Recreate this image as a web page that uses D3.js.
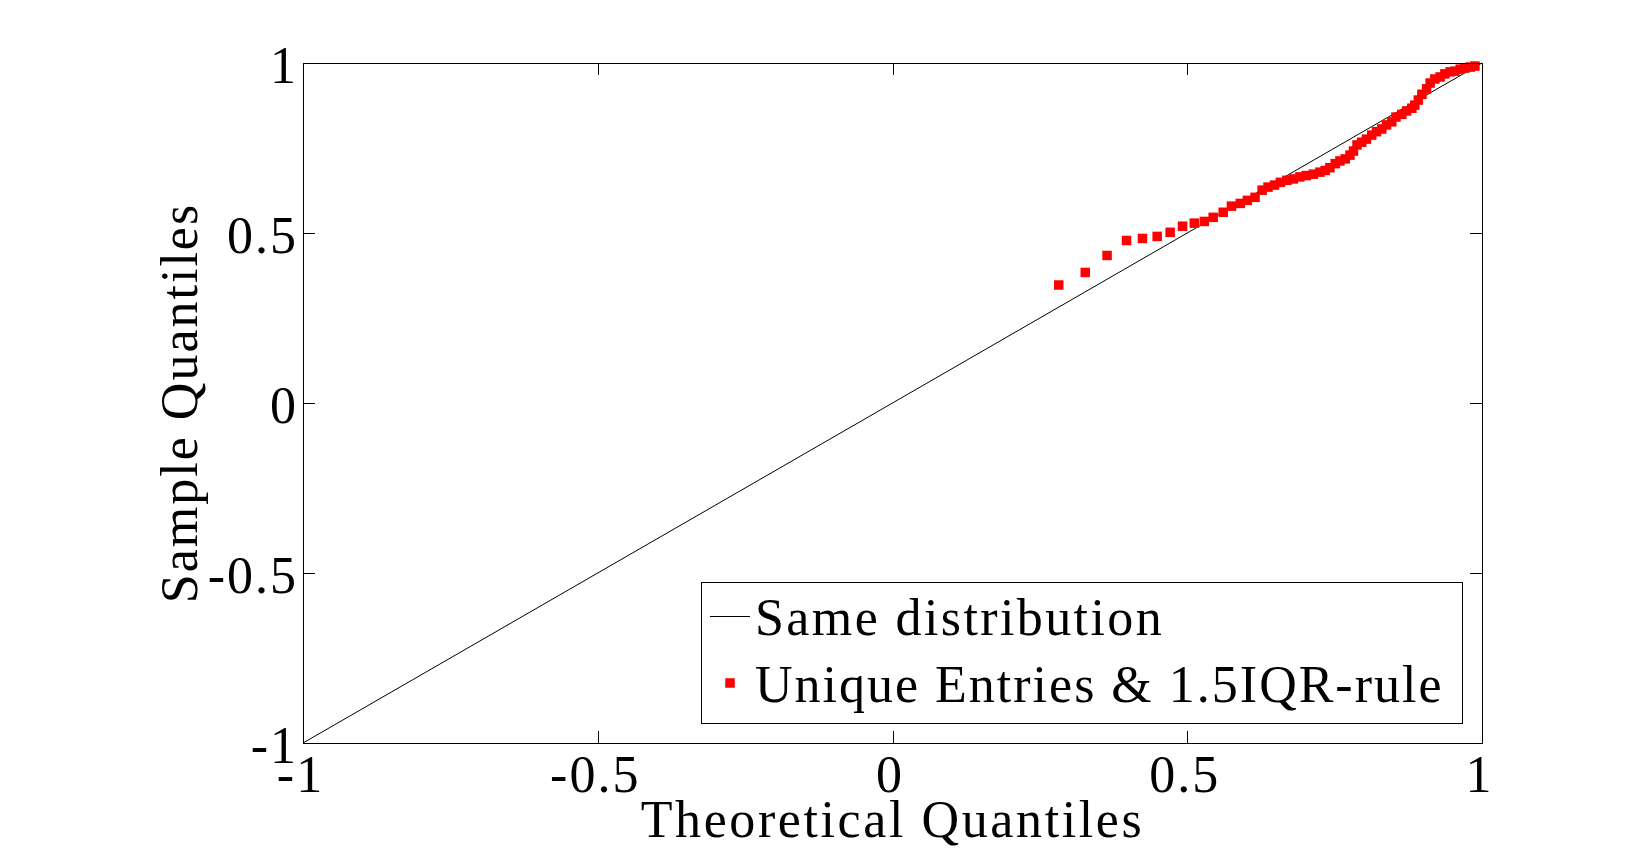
<!DOCTYPE html>
<html><head><meta charset="utf-8">
<script src="https://cdn.jsdelivr.net/npm/d3@7"></script>
<style>
html,body{margin:0;padding:0;background:#fff;}
svg{display:block;}
text{font-family:"Liberation Serif","Times New Roman",serif;fill:#000;}
</style></head>
<body>
<svg id="chart" width="1638" height="851"></svg>
<script>
// ---- data ----
const xTicks = [-1, -0.5, 0, 0.5, 1];
const xTickLabels = ["-1", "-0.5", "0", "0.5", "1"];
const yTicks = [-1, -0.5, 0, 0.5, 1];
const yTickLabels = ["-1", "-0.5", "0", "0.5", "1"];
const refLineX = [-1, 1];
const refLineY = [-1, 1];
const theoX = [0.282,0.327,0.364,0.397,0.424,0.449,0.471,0.492,0.512,0.529,
  0.544,0.561,0.575,0.590,0.602,0.615,0.627,0.637,0.648,0.658,
  0.669,0.680,0.691,0.702,0.714,0.725,0.734,0.742,0.751,0.759,
  0.768,0.776,0.782,0.788,0.796,0.804,0.813,0.821,0.830,0.838,
  0.847,0.854,0.864,0.872,0.881,0.886,0.892,0.898,0.906,
  0.912,0.920,0.929,0.937,0.946,0.954,0.963,0.971,0.980,0.988];
const sampleY = [0.347,0.384,0.434,0.478,0.484,0.490,0.502,0.520,0.529,0.534,
  0.546,0.561,0.579,0.587,0.596,0.605,0.626,0.635,0.641,0.649,
  0.655,0.659,0.665,0.669,0.673,0.679,0.684,0.692,0.704,0.712,
  0.718,0.729,0.741,0.759,0.767,0.776,0.788,0.798,0.806,0.818,
  0.827,0.841,0.849,0.859,0.867,0.876,0.891,0.908,0.924,
  0.941,0.953,0.959,0.968,0.974,0.976,0.982,0.985,0.988,0.991];
const seriesNames = ["Same distribution", "Unique Entries & 1.5IQR-rule"];
const xLabel = "Theoretical Quantiles";
const yLabel = "Sample Quantiles";

// ---- layout ----
const L = 303, R = 1482, T = 63, B = 743;
const FS = 52, LS = "2px";
const svg = d3.select("#chart");
const x = d3.scaleLinear().domain([-1, 1]).range([L, R]);
const y = d3.scaleLinear().domain([-1, 1]).range([B, T]);

// reference line
svg.append("path")
  .datum(refLineX.map((v, i) => [v, refLineY[i]]))
  .attr("d", d3.line().x(d => x(d[0])).y(d => y(d[1])))
  .attr("fill", "none").attr("stroke", "#000").attr("stroke-width", 1);

// points
const pts = theoX.map((v, i) => ({x: v, y: sampleY[i]}));
const S = 9.5;
svg.append("g").selectAll("rect").data(pts).join("rect")
  .attr("x", d => x(d.x) - S / 2).attr("y", d => y(d.y) - S / 2)
  .attr("width", S).attr("height", S).attr("fill", "#ff0000");

// axes
const tickLen = 12;
const gB = svg.append("g").attr("transform", `translate(0,${B})`)
  .call(d3.axisBottom(x).tickValues(xTicks).tickSize(-tickLen).tickFormat((d, i) => xTickLabels[i]));
gB.selectAll("text").attr("y", 49).attr("dy", 0).attr("dx", -3)
  .style("font-size", FS + "px").style("letter-spacing", LS).attr("font-family", null);
const gT = svg.append("g").attr("transform", `translate(0,${T})`)
  .call(d3.axisTop(x).tickValues(xTicks).tickSize(-tickLen).tickFormat(""));
const gL = svg.append("g").attr("transform", `translate(${L},0)`)
  .call(d3.axisLeft(y).tickValues(yTicks).tickSize(-tickLen).tickFormat((d, i) => yTickLabels[i]));
gL.selectAll("text").attr("x", -5).attr("dy", 0).attr("y", 19)
  .style("font-size", FS + "px").style("letter-spacing", LS).attr("font-family", null);
const gR = svg.append("g").attr("transform", `translate(${R},0)`)
  .call(d3.axisRight(y).tickValues(yTicks).tickSize(-tickLen).tickFormat(""));
[gB, gT, gL, gR].forEach(g => {
  g.select(".domain").remove();
  g.selectAll("line").attr("stroke", "#000").attr("shape-rendering", "crispEdges");
});
svg.append("rect").attr("x", L).attr("y", T).attr("width", R - L).attr("height", B - T)
  .attr("fill", "none").attr("stroke", "#000").attr("stroke-width", 1).attr("shape-rendering", "crispEdges");

// axis labels
svg.append("text").attr("x", (L + R) / 2).attr("y", 837).attr("text-anchor", "middle")
  .style("font-size", FS + "px").style("letter-spacing", "2.6px").text(xLabel);
svg.append("text").attr("transform", `translate(197,${(T + B) / 2}) rotate(-90)`).attr("text-anchor", "middle")
  .style("font-size", FS + "px").style("letter-spacing", LS).text(yLabel);

// legend
const lg = svg.append("g");
lg.append("rect").attr("x", 701).attr("y", 582).attr("width", 761).attr("height", 141)
  .attr("fill", "#fff").attr("stroke", "#000").attr("stroke-width", 1).attr("shape-rendering", "crispEdges");
const rows = [616, 683];
lg.append("line").attr("x1", 710).attr("x2", 750).attr("y1", rows[0]).attr("y2", rows[0])
  .attr("stroke", "#000").attr("stroke-width", 1).attr("shape-rendering", "crispEdges");
lg.append("rect").attr("x", 730 - S / 2).attr("y", rows[1] - S / 2).attr("width", S).attr("height", S).attr("fill", "#ff0000");
seriesNames.forEach((n, i) => {
  lg.append("text").attr("x", 755).attr("y", rows[i] + 19)
    .style("font-size", FS + "px").style("letter-spacing", i === 0 ? "2.4px" : LS).text(n);
});
</script>
</body></html>
